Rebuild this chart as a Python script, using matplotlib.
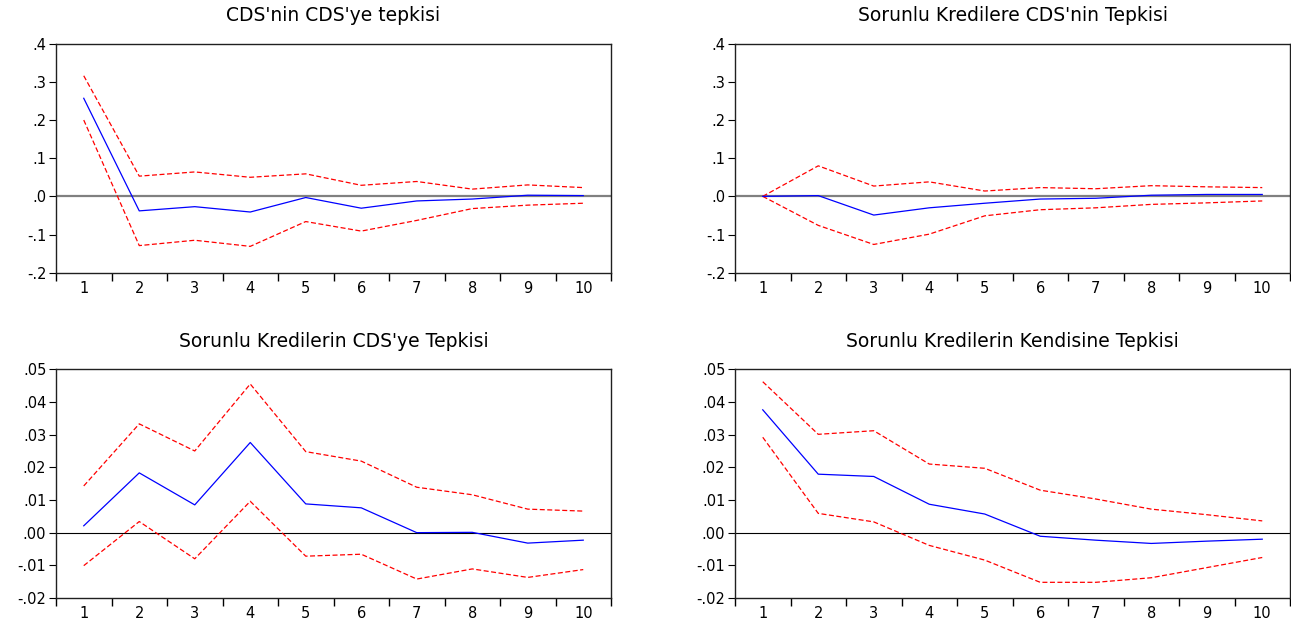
import matplotlib
matplotlib.use("Agg")
import matplotlib.pyplot as plt
from matplotlib.ticker import FixedLocator, FuncFormatter

plt.rcParams['font.family'] = ['DejaVu Sans']

periods = [1, 2, 3, 4, 5, 6, 7, 8, 9, 10]

titles = ["CDS'nin CDS'ye tepkisi", "Sorunlu Kredilere CDS'nin Tepkisi",
          "Sorunlu Kredilerin CDS'ye Tepkisi", "Sorunlu Kredilerin Kendisine Tepkisi"]

# Panel 1
p1_resp = [0.257, -0.038, -0.027, -0.041, -0.003, -0.031, -0.012, -0.007, 0.003, 0.002]
p1_up = [0.316, 0.053, 0.064, 0.050, 0.059, 0.029, 0.039, 0.019, 0.030, 0.023]
p1_lo = [0.200, -0.129, -0.115, -0.131, -0.066, -0.091, -0.063, -0.032, -0.023, -0.018]
# Panel 2
p2_resp = [0.0, 0.002, -0.049, -0.030, -0.018, -0.007, -0.005, 0.003, 0.005, 0.005]
p2_up = [0.0, 0.080, 0.027, 0.038, 0.014, 0.023, 0.020, 0.028, 0.025, 0.023]
p2_lo = [0.0, -0.076, -0.126, -0.099, -0.051, -0.035, -0.030, -0.021, -0.017, -0.012]
# Panel 3
p3_resp = [0.0021, 0.0183, 0.0085, 0.0276, 0.0088, 0.0076, 0.0000, 0.0001, -0.0032, -0.0023]
p3_up = [0.0143, 0.0333, 0.0250, 0.0455, 0.0248, 0.0219, 0.0139, 0.0116, 0.0072, 0.0066]
p3_lo = [-0.0101, 0.0034, -0.0080, 0.0096, -0.0072, -0.0066, -0.0142, -0.0111, -0.0137, -0.0113]
# Panel 4
p4_resp = [0.0376, 0.0179, 0.0172, 0.0087, 0.0057, -0.0011, -0.0023, -0.0033, -0.0026, -0.0020]
p4_up = [0.0462, 0.0301, 0.0312, 0.0210, 0.0197, 0.0130, 0.0103, 0.0072, 0.0055, 0.0036]
p4_lo = [0.0292, 0.0059, 0.0033, -0.0039, -0.0084, -0.0152, -0.0152, -0.0138, -0.0107, -0.0076]

yticks_top = [-0.2, -0.1, 0.0, 0.1, 0.2, 0.3, 0.4]
yticks_bot = [-0.02, -0.01, 0.00, 0.01, 0.02, 0.03, 0.04, 0.05]

panels = [
    (titles[0], p1_resp, p1_up, p1_lo, yticks_top, 1, '#808080', 1.6),
    (titles[1], p2_resp, p2_up, p2_lo, yticks_top, 1, '#808080', 1.6),
    (titles[2], p3_resp, p3_up, p3_lo, yticks_bot, 2, 'black', 0.8),
    (titles[3], p4_resp, p4_up, p4_lo, yticks_bot, 2, 'black', 0.8),
]

W, H = 1291, 622
fig = plt.figure(figsize=(W / 100, H / 100), dpi=100)

boxes = [
    (56, 611, 43.7, 272.7),
    (735, 1290, 43.7, 272.7),
    (56, 611, 369.3, 598),
    (735, 1290, 369.3, 598),
]

def make_fmt(dec):
    def f(v, pos):
        s = f"{abs(v):.{dec}f}"
        if s.startswith("0"):
            s = s[1:]
        if v < 0 and abs(v) > 1e-12:
            s = "-" + s
        return s
    return FuncFormatter(f)

for (title, resp, up, lo, yt, dec, zc, zw), (x0, x1, y0, y1) in zip(panels, boxes):
    ax = fig.add_axes([x0 / W, 1 - y1 / H, (x1 - x0) / W, (y1 - y0) / H])
    ax.axhline(0, color=zc, lw=zw, zorder=1)
    ax.plot(periods, up, color='#ff0000', lw=0.9, ls=(0, (4, 2)), zorder=2)
    ax.plot(periods, lo, color='#ff0000', lw=0.9, ls=(0, (4, 2)), zorder=2)
    ax.plot(periods, resp, color='#0000ff', lw=0.9, zorder=3)
    ax.set_xlim(0.5, 10.5)
    ax.set_ylim(yt[0], yt[-1])
    ax.yaxis.set_major_locator(FixedLocator(yt))
    ax.yaxis.set_major_formatter(make_fmt(dec))
    ax.xaxis.set_major_locator(FixedLocator(periods))
    ax.xaxis.set_minor_locator(FixedLocator([p + 0.5 for p in [0] + periods]))
    ax.tick_params(axis='x', which='major', length=0, pad=6, labelsize=10.5)
    ax.tick_params(axis='x', which='minor', length=6, direction='out', width=1)
    ax.tick_params(axis='y', which='major', length=5, direction='out', pad=2, labelsize=10.5)
    for sp in ax.spines.values():
        sp.set_linewidth(1.0)
        sp.set_color('#202020')
    ax.set_title(title, fontsize=13.5, pad=16)

fig.savefig('out.png', dpi=100)
